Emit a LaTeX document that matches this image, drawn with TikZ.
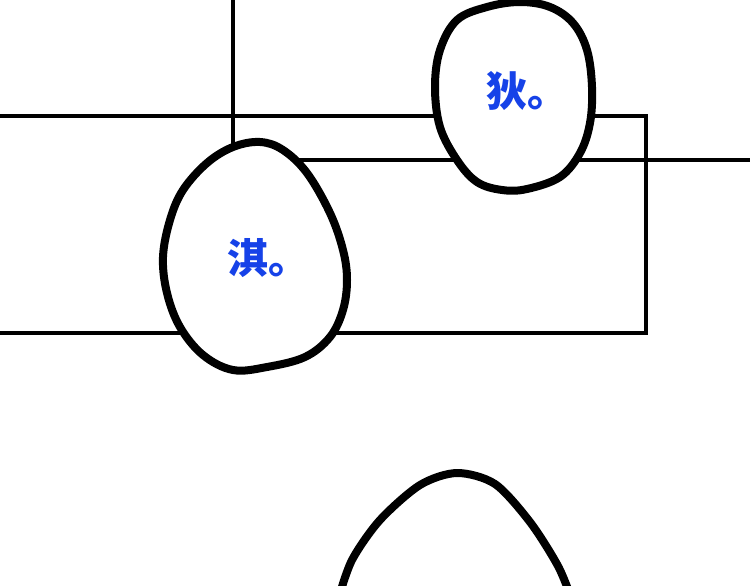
\documentclass[tikz,border=0pt]{standalone}
\usepackage{fontspec}
\newfontfamily\cjk{Noto Sans CJK SC}
\definecolor{speechblue}{RGB}{22,66,232}
\tikzset{
  panel/.style={line width=4pt, line join=miter},
  bubble/.style={line width=8pt, fill=white, line join=round},
  speech/.style={text=speechblue, font=\cjk\bfseries\fontsize{41}{41}\selectfont, inner sep=0pt}
}
\begin{document}
\begin{tikzpicture}
      [x=1pt, y=-1pt]
      \useasboundingbox (0, 0) rectangle (750, 586);
      \clip (0, 0) rectangle (750, 586);
      % panel borders
      \draw[panel] (233, -5) -- (233, 160) -- (755, 160);
      \draw[panel] (-5, 116) -- (646, 116) -- (646, 333) -- (-5, 333);
      % bubbles
      \draw[bubble] plot[smooth cycle, tension=0.6] coordinates {(260, 142) (233, 147) (207, 163) (183, 190) (170, 220) (163, 257) (167, 293) (180, 327) (203, 355) (233, 370) (267, 367) (305, 357) (330, 337) (343, 310) (347, 280) (343, 250) (330, 213) (307, 173) (283, 150)};
      \draw[bubble] plot[smooth cycle, tension=0.6] coordinates {(520, 2) (487, 7) (457, 20) (440, 50) (435, 87) (440, 127) (457, 160) (477, 182) (502, 190) (527, 189) (560, 177) (580, 153) (590, 123) (592, 87) (587, 50) (573, 23) (550, 7)};
      \draw[bubble] plot[smooth] coordinates {(338, 600) (352, 560) (380, 520) (420, 485) (457, 473) (495, 484) (530, 522) (558, 566) (572, 600)};
      % texts
      \node[speech](qi) at (268, 258) {淇。};
      \node[speech](di) at (527, 91) {狄。};
  \end{tikzpicture}
\end{document}
